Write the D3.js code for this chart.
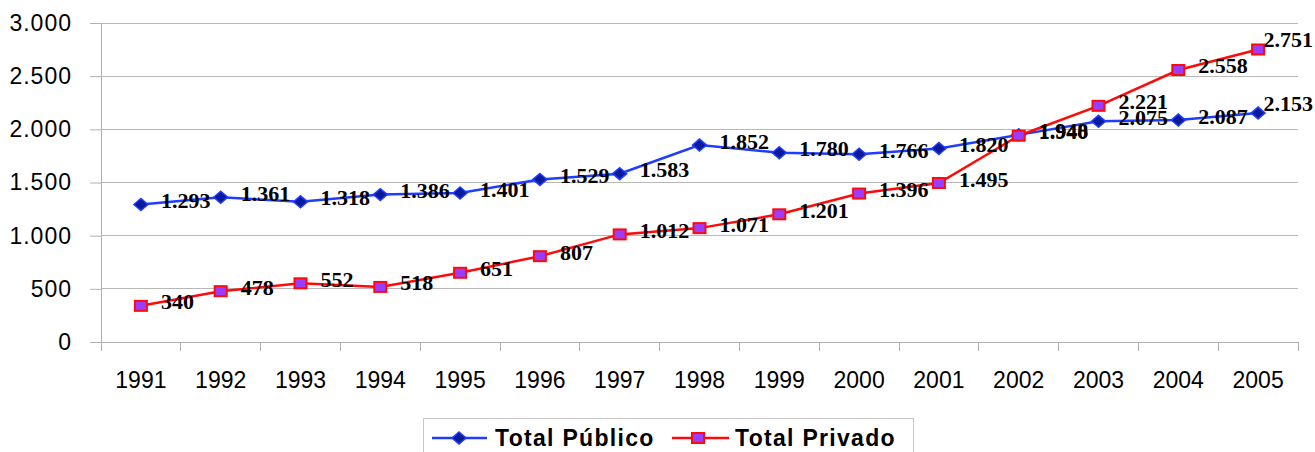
<!DOCTYPE html>
<html><head><meta charset="utf-8">
<script src="https://cdn.jsdelivr.net/npm/d3@7"></script>
<style>body{margin:0;background:#fff;}svg{display:block;}</style>
</head><body>
<svg id="c" width="1315" height="452"></svg>
<script>
const years = ["1991","1992","1993","1994","1995","1996","1997","1998","1999","2000","2001","2002","2003","2004","2005"];
const publico = [1293,1361,1318,1386,1401,1529,1583,1852,1780,1766,1820,1948,2075,2087,2153];
const privado = [340,478,552,518,651,807,1012,1071,1201,1396,1495,1940,2221,2558,2751];
const yTicks = [0,500,1000,1500,2000,2500,3000];
const seriesNames = ["Total Público","Total Privado"];

const svg = d3.select("#c");
const W = 1315;
const x = d3.scaleBand().domain(years).range([101,1298]);
const y = d3.scaleLinear().domain([0,3000]).range([342,23]);
const fmt = v => d3.format(",")(v).replace(/,/g,".");

// gridlines
svg.append("g").selectAll("line").data(yTicks.filter(d=>d>0)).join("line")
  .attr("x1",101).attr("x2",1298).attr("y1",d=>y(d)).attr("y2",d=>y(d))
  .attr("stroke","#b8b8b8").attr("stroke-width",1).attr("shape-rendering","crispEdges");

// y axis
const ya = svg.append("g").attr("transform","translate(101,0)")
  .call(d3.axisLeft(y).tickValues(yTicks).tickSize(11).tickPadding(18).tickFormat(fmt));
ya.select(".domain").attr("stroke","#b0b0b0");
ya.selectAll(".tick line").attr("stroke","#b0b0b0");
ya.selectAll("text").attr("font-family","Arial, 'Liberation Sans', sans-serif").attr("font-size",23)
  .attr("letter-spacing","1px").attr("fill","#000");

// x axis
const xa = svg.append("g").attr("transform","translate(0,342)")
  .call(d3.axisBottom(x).tickSize(0).tickPadding(30));
xa.select(".domain").attr("stroke","#b0b0b0").attr("d","M90,0.5H1298");
xa.selectAll("text").attr("font-family","Arial, 'Liberation Sans', sans-serif").attr("font-size",23).attr("fill","#000");
// boundary ticks
const bounds = years.map(d=>x(d)).concat([x(years[years.length-1])+x.bandwidth()]);
svg.append("g").selectAll("line").data(bounds).join("line")
  .attr("x1",d=>d).attr("x2",d=>d).attr("y1",342).attr("y2",351)
  .attr("stroke","#b0b0b0").attr("shape-rendering","crispEdges");

const cx = d => x(d) + x.bandwidth()/2;
const line = d3.line().x((d,i)=>cx(years[i])).y(d=>y(d));

const blue = "#1f3cff", red = "#ff0a0a";

svg.append("path").datum(publico).attr("d",line).attr("fill","none").attr("stroke",blue).attr("stroke-width",2.5);
svg.append("path").datum(privado).attr("d",line).attr("fill","none").attr("stroke",red).attr("stroke-width",2.5);

const diamond = (px,py) => `M${px-7},${py}L${px},${py-6}L${px+7},${py}L${px},${py+6}Z`;
svg.append("g").selectAll("path").data(publico).join("path")
  .attr("d",(d,i)=>diamond(cx(years[i]),y(d)))
  .attr("fill","#0a1a9a").attr("stroke",blue).attr("stroke-width",1.5);

svg.append("g").selectAll("rect").data(privado).join("rect")
  .attr("x",(d,i)=>cx(years[i])-6).attr("y",d=>y(d)-5).attr("width",12).attr("height",10)
  .attr("fill","#9b3dff").attr("stroke",red).attr("stroke-width",2);

// data labels
function labels(data){
  const g = svg.append("g");
  data.forEach((v,i)=>{
    const t = g.append("text").text(fmt(v))
      .attr("font-family","'Times New Roman','Liberation Serif',serif").attr("font-weight","bold")
      .attr("font-size",22).attr("fill","#000").attr("dominant-baseline","central");
    let lx = cx(years[i]) + 20, ly = y(v) - 4;
    const w = t.node().getComputedTextLength();
    if (lx + w > W - 2) { lx = W - 2 - w; ly -= 6; }
    t.attr("x",lx).attr("y",ly);
  });
}
labels(publico);
labels(privado);

// legend
const lg = svg.append("g");
lg.append("rect").attr("x",423.5).attr("y",418.5).attr("width",490).attr("height",40)
  .attr("fill","#fff").attr("stroke","#c8c8c8");
lg.append("line").attr("x1",432).attr("x2",487).attr("y1",438).attr("y2",438).attr("stroke",blue).attr("stroke-width",2.5);
lg.append("path").attr("d",diamond(459,438)).attr("fill","#0a1a9a").attr("stroke",blue).attr("stroke-width",1.5);
lg.append("text").attr("x",495).attr("y",446).text(seriesNames[0])
  .attr("font-family","Arial, 'Liberation Sans', sans-serif").attr("font-weight","bold").attr("font-size",23).attr("letter-spacing","1.3px");
lg.append("line").attr("x1",672).attr("x2",729).attr("y1",438).attr("y2",438).attr("stroke",red).attr("stroke-width",2.5);
lg.append("rect").attr("x",692).attr("y",433).attr("width",12).attr("height",10).attr("fill","#9b3dff").attr("stroke",red).attr("stroke-width",2);
lg.append("text").attr("x",735).attr("y",446).text(seriesNames[1])
  .attr("font-family","Arial, 'Liberation Sans', sans-serif").attr("font-weight","bold").attr("font-size",23).attr("letter-spacing","1.3px");
</script>
</body></html>
